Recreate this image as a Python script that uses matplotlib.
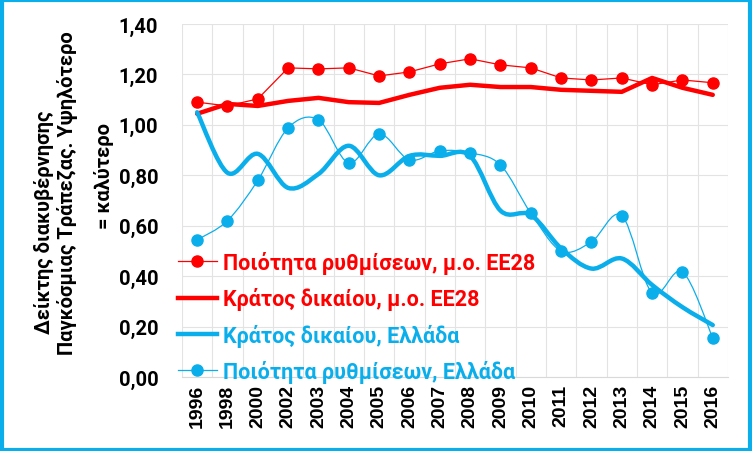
import matplotlib
matplotlib.use("Agg")
import matplotlib.pyplot as plt
from matplotlib.path import Path
from matplotlib.patches import PathPatch, Rectangle
from matplotlib.lines import Line2D
import numpy as np

years = ["1996", "1998", "2000", "2002", "2003", "2004", "2005", "2006", "2007",
         "2008", "2009", "2010", "2011", "2012", "2013", "2014", "2015", "2016"]
rq_eu28 = [1.09, 1.075, 1.103, 1.226, 1.222, 1.226, 1.194, 1.21, 1.242,
           1.262, 1.238, 1.226, 1.186, 1.178, 1.186, 1.159, 1.178, 1.167]
rl_eu28 = [1.044, 1.083, 1.075, 1.095, 1.107, 1.09, 1.087, 1.119, 1.147,
           1.159, 1.15, 1.15, 1.139, 1.135, 1.131, 1.186, 1.147, 1.119]
rl_gr = [1.05, 0.81, 0.885, 0.75, 0.805, 0.917, 0.80, 0.877, 0.877,
         0.877, 0.66, 0.643, 0.51, 0.43, 0.47, 0.365, 0.277, 0.206]
rq_gr = [0.544, 0.62, 0.78, 0.988, 1.02, 0.849, 0.964, 0.861, 0.897,
         0.889, 0.841, 0.65, 0.50, 0.536, 0.64, 0.333, 0.417, 0.155]

labels = ["Ποιότητα ρυθμίσεων, μ.ο. ΕΕ28", "Κράτος δικαίου, μ.ο. ΕΕ28",
          "Κράτος δικαίου, Ελλάδα", "Ποιότητα ρυθμίσεων, Ελλάδα"]
ylabel_lines = ["Δείκτης διακυβέρνησης",
                "Παγκόσμιας Τράπεζας. Υψηλότερο",
                "= καλύτερο"]

RED = "#FF0000"
BLUE = "#0AAEEB"
FAM = ["Roboto", "DejaVu Sans"]


def smooth_path(x, y):
    x = np.asarray(x, float)
    y = np.asarray(y, float)
    pts = np.column_stack([x, y])
    n = len(pts)
    verts = [pts[0]]
    codes = [Path.MOVETO]
    for i in range(n - 1):
        p0 = pts[i - 1] if i > 0 else pts[i]
        p1 = pts[i]
        p2 = pts[i + 1]
        p3 = pts[i + 2] if i + 2 < n else pts[i + 1]
        c1 = p1 + (p2 - p0) / 6.0
        c2 = p2 - (p3 - p1) / 6.0
        verts += [c1, c2, p2]
        codes += [Path.CURVE4] * 3
    return Path(verts, codes)


fig = plt.figure(figsize=(7.52, 4.52), dpi=100)
ax = fig.add_axes([0.242, 0.1637, 0.726, 0.781])
x = np.arange(len(years))

ax.plot(x, rq_eu28, color=RED, lw=0.9, marker="o", ms=8, zorder=4)
ax.plot(x, rl_eu28, color=RED, lw=3.2, zorder=3, solid_capstyle="round")
ax.add_patch(PathPatch(smooth_path(x, rl_gr), facecolor="none", edgecolor=BLUE,
                       lw=3.2, zorder=3, capstyle="round"))
ax.add_patch(PathPatch(smooth_path(x, rq_gr), facecolor="none", edgecolor=BLUE,
                       lw=0.9, zorder=4))
ax.plot(x, rq_gr, color=BLUE, lw=0, marker="o", ms=8, zorder=5)

ax.set_xlim(-0.5, len(years) - 0.5)
ax.set_ylim(0, 1.4)
yt = np.arange(0, 1.41, 0.2)
ax.set_yticks(yt)
ax.set_yticklabels([f"{v:.2f}".replace(".", ",") for v in yt],
                   fontsize=14.5, fontweight="bold", family=FAM)
ax.set_xticks(x)
ax.set_xticklabels(years, rotation=90, fontsize=14, fontweight="bold",
                   family=["Liberation Sans", "DejaVu Sans"])
ax.set_xticks(np.arange(-0.5, len(years), 1), minor=True)
ax.grid(False)
ax.grid(True, which="minor", axis="x", color="#E3E3E3", lw=0.8)
ax.grid(True, which="major", axis="y", color="#E3E3E3", lw=0.8)
ax.set_axisbelow(True)
for s in ["top", "right", "left"]:
    ax.spines[s].set_visible(False)
ax.spines["bottom"].set_color("#D9D9D9")
ax.tick_params(axis="both", which="both", length=0)
ax.tick_params(axis="y", pad=17)
ax.tick_params(axis="x", pad=5)

for xc, yc, t in zip([44, 68, 104], [222, 193, 176], ylabel_lines):
    fig.text(xc / 752, 1 - yc / 452, t, rotation=90, ha="center", va="center",
             fontsize=14.5, fontweight="bold", family=FAM)

handles = [
    Line2D([], [], color=RED, lw=0.9, marker="o", ms=8),
    Line2D([], [], color=RED, lw=3.2),
    Line2D([], [], color=BLUE, lw=3.2),
    Line2D([], [], color=BLUE, lw=0.9, marker="o", ms=8),
]
leg = fig.legend(handles, labels, loc="lower left", bbox_to_anchor=(178 / 752, 1 - 384 / 452),
                 frameon=False, handlelength=1.8, handletextpad=0.3,
                 labelspacing=0.62, borderaxespad=0, borderpad=0,
                 prop={"family": FAM, "size": 15.5, "weight": "bold"})
for t, c in zip(leg.get_texts(), [RED, RED, BLUE, BLUE]):
    t.set_color(c)
leg.set_zorder(6)

fig.patches.append(Rectangle((0.002, 0.003), 0.996, 0.994,
                   transform=fig.transFigure, fill=False, edgecolor=BLUE, lw=3.0))

fig.savefig("out.png", dpi=100)
